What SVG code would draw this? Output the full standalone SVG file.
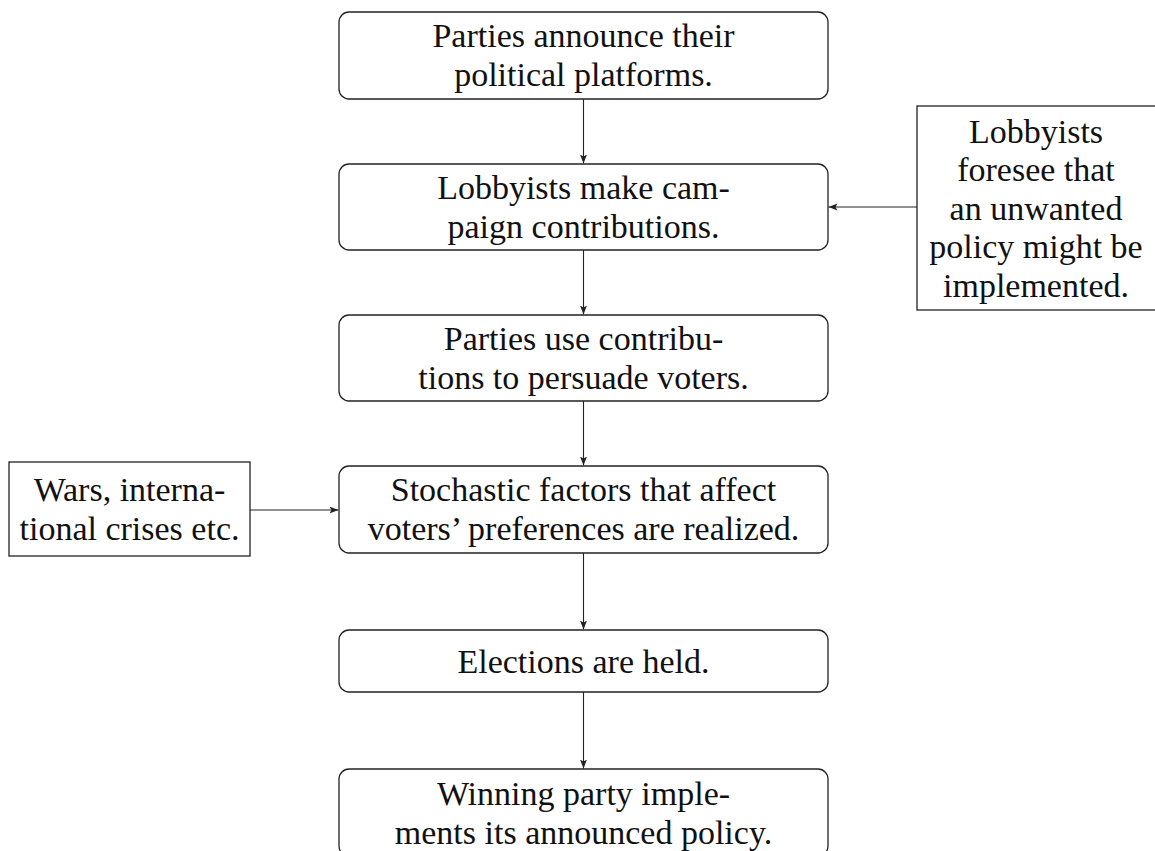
<svg xmlns="http://www.w3.org/2000/svg" width="1155" height="851" viewBox="0 0 1155 851">
<style>
.box{fill:#fff;stroke:#222;stroke-width:1.3}
.t{font-family:"Liberation Serif","Times New Roman",serif;font-size:34px;fill:#111;text-anchor:middle}
.c{fill:none;stroke:#222;stroke-width:1.1;marker-end:url(#ah)}
</style>
<defs>
<marker id="ah" markerUnits="userSpaceOnUse" markerWidth="10" markerHeight="8" refX="9" refY="4" orient="auto">
<path d="M0,0.5 L9,4 L0,7.5 L2,4 Z" fill="#222"/>
</marker>
</defs>
<rect width="1155" height="851" fill="#fff"/>
<g id="connectors">
<line class="c" x1="583.5" y1="99" x2="583.5" y2="163.5"/>
<line class="c" x1="583.5" y1="250" x2="583.5" y2="314.5"/>
<line class="c" x1="583.5" y1="401" x2="583.5" y2="465.5"/>
<line class="c" x1="583.5" y1="553" x2="583.5" y2="629.5"/>
<line class="c" x1="583.5" y1="692" x2="583.5" y2="768.5"/>
<line class="c" x1="917" y1="207" x2="828.5" y2="207"/>
<line class="c" x1="250" y1="510" x2="338.5" y2="510"/>
</g>
<g id="n1">
<rect class="box" x="339" y="12" width="489" height="87" rx="10"/>
<text class="t" x="583.5" y="47">Parties announce their</text>
<text class="t" x="583.5" y="85.5">political platforms.</text>
</g>
<g id="n2">
<rect class="box" x="339" y="164" width="489" height="86" rx="10"/>
<text class="t" x="583.5" y="199">Lobbyists make cam-</text>
<text class="t" x="583.5" y="237.5">paign contributions.</text>
</g>
<g id="n3">
<rect class="box" x="339" y="315" width="489" height="86" rx="10"/>
<text class="t" x="583.5" y="350">Parties use contribu-</text>
<text class="t" x="583.5" y="388.5">tions to persuade voters.</text>
</g>
<g id="n4">
<rect class="box" x="339" y="466" width="489" height="87" rx="10"/>
<text class="t" x="583.5" y="501">Stochastic factors that affect</text>
<text class="t" x="583.5" y="539.5">voters’ preferences are realized.</text>
</g>
<g id="n5">
<rect class="box" x="339" y="630" width="489" height="62" rx="10"/>
<text class="t" x="583.5" y="673">Elections are held.</text>
</g>
<g id="n6">
<rect class="box" x="339" y="769" width="489" height="87" rx="10"/>
<text class="t" x="583.5" y="805">Winning party imple-</text>
<text class="t" x="583.5" y="843.5">ments its announced policy.</text>
</g>
<g id="n7">
<rect class="box" x="917" y="106" width="240" height="204"/>
<text class="t" x="1036" y="142.5">Lobbyists</text>
<text class="t" x="1036" y="181">foresee that</text>
<text class="t" x="1036" y="219.5">an unwanted</text>
<text class="t" x="1036" y="258">policy might be</text>
<text class="t" x="1036" y="296.5">implemented.</text>
</g>
<g id="n8">
<rect class="box" x="9" y="462" width="241" height="94"/>
<text class="t" x="129.5" y="501">Wars, interna-</text>
<text class="t" x="129.5" y="539.5">tional crises etc.</text>
</g>
</svg>
